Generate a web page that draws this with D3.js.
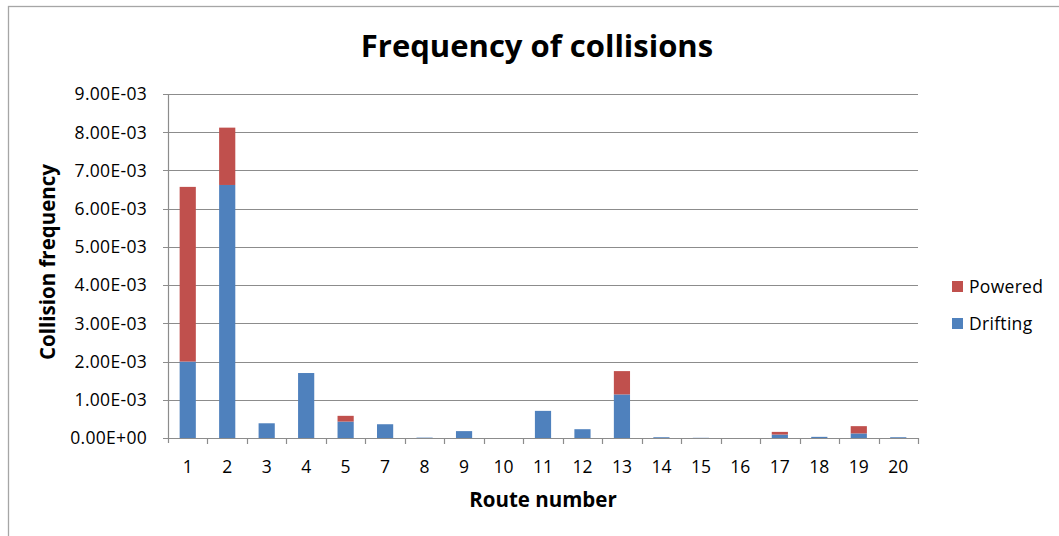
<!DOCTYPE html>
<html>
<head>
<meta charset="utf-8">
<script src="https://cdn.jsdelivr.net/npm/d3@7"></script>
<style>
  body { margin: 0; background: #fff; }
  text { font-family: "Open Sans", Lato, sans-serif; fill: #000; }
</style>
</head>
<body>
<svg width="1059" height="536"></svg>
<script>
// route numbers and collision frequencies
var routes = ["1", "2", "3", "4", "5", "7", "8", "9", "10", "11", "12", "13", "14", "15", "16", "17", "18", "19", "20"];
var drifting = [2.0e-3, 6.62e-3, 0.385e-3, 1.70e-3, 0.43e-3, 0.36e-3, 0.01e-3, 0.18e-3, 0, 0.71e-3, 0.23e-3, 1.14e-3, 0.02e-3, 0.005e-3, 0, 0.09e-3, 0.03e-3, 0.12e-3, 0.02e-3];
var powered = [4.57e-3, 1.5e-3, 0, 0, 0.15e-3, 0, 0, 0, 0, 0, 0, 0.61e-3, 0, 0, 0, 0.07e-3, 0, 0.19e-3, 0];
var yTicks = [0, 1e-3, 2e-3, 3e-3, 4e-3, 5e-3, 6e-3, 7e-3, 8e-3, 9e-3];

var svg = d3.select("svg");
var margin = {left: 168, right: 141, top: 94, bottom: 98};
var width = 1059 - margin.left - margin.right,
    height = 536 - margin.top - margin.bottom;

// outer chart border (cut off at right and bottom like the reference)
svg.append("rect")
   .attr("x", 8.5).attr("y", 6.5)
   .attr("width", 1100).attr("height", 600)
   .attr("fill", "none").attr("stroke", "#a6a6a6").attr("stroke-width", 1.3);

var g = svg.append("g").attr("transform", "translate(" + margin.left + "," + margin.top + ")");

var x = d3.scaleBand().domain(routes).range([0, width]).paddingInner(0.59).paddingOuter(0.295);
var xb = d3.scaleBand().domain(routes).range([0, width]);
var y = d3.scaleLinear().domain([0, 9e-3]).range([height, 0]);

// gridlines
g.selectAll(".grid")
 .data(yTicks)
 .enter().append("line")
 .attr("x1", -5).attr("x2", width)
 .attr("y1", function(d) { return Math.round(y(d)) + 0.5; })
 .attr("y2", function(d) { return Math.round(y(d)) + 0.5; })
 .attr("stroke", "#8c8c8c").attr("stroke-width", 1.2);

// y labels
g.selectAll(".ylab")
 .data(yTicks)
 .enter().append("text")
 .attr("x", -21).attr("y", function(d) { return y(d); })
 .attr("dy", "0.36em")
 .attr("text-anchor", "end")
 .style("font-size", "17.5px").style("letter-spacing", "0.3px")
 .text(function(d) { return d === 0 ? "0.00E+00" : d3.format(".2e")(d).replace(/e-(\d)$/, "E-0$1"); });

var stack = d3.stack().keys(["drifting", "powered"])(routes.map(function(r, i) {
  return {route: r, drifting: drifting[i], powered: powered[i]};
}));
var colors = {drifting: "#4f81bd", powered: "#c0504d"};

g.selectAll(".series")
 .data(stack)
 .enter().append("g")
 .attr("fill", function(d) { return colors[d.key]; })
 .selectAll("rect")
 .data(function(d) { return d; })
 .enter().append("rect")
 .attr("x", function(d) { return x(d.data.route); })
 .attr("width", x.bandwidth())
 .attr("y", function(d) { return y(d[1]); })
 .attr("height", function(d) { return y(d[0]) - y(d[1]); });

// axes lines
g.append("line").attr("x1", 0.5).attr("x2", 0.5).attr("y1", 0).attr("y2", height + 5)
 .attr("stroke", "#8c8c8c").attr("stroke-width", 1.2);
g.append("line").attr("x1", 0).attr("x2", width).attr("y1", height + 0.5).attr("y2", height + 0.5)
 .attr("stroke", "#8c8c8c").attr("stroke-width", 1.2);

// x ticks at band edges
g.selectAll(".xtick")
 .data(routes)
 .enter().append("line")
 .attr("x1", function(d) { return Math.round(xb(d) + xb.bandwidth()) + 0.5; })
 .attr("x2", function(d) { return Math.round(xb(d) + xb.bandwidth()) + 0.5; })
 .attr("y1", height).attr("y2", height + 6)
 .attr("stroke", "#8c8c8c").attr("stroke-width", 1.2);

g.selectAll(".xlab")
 .data(routes)
 .enter().append("text")
 .attr("x", function(d) { return xb(d) + xb.bandwidth() / 2; })
 .attr("y", height + 35)
 .attr("text-anchor", "middle")
 .style("font-size", "17.5px")
 .text(function(d) { return d; });

// titles
svg.append("text")
   .attr("x", 537).attr("y", 57)
   .attr("text-anchor", "middle")
   .style("font-size", "31px").style("font-weight", "bold")
   .text("Frequency of collisions");

svg.append("text")
   .attr("x", 543).attr("y", 507)
   .attr("text-anchor", "middle")
   .style("font-size", "20.5px").style("font-weight", "bold")
   .text("Route number");

svg.append("text")
   .attr("transform", "translate(55,262) rotate(-90)")
   .attr("text-anchor", "middle")
   .style("font-size", "20.5px").style("font-weight", "bold")
   .text("Collision frequency");

// legend
var legend = svg.selectAll(".legend")
  .data([["Powered", colors.powered], ["Drifting", colors.drifting]])
  .enter().append("g")
  .attr("transform", function(d, i) { return "translate(952," + (281 + i * 37) + ")"; });
legend.append("rect").attr("width", 11).attr("height", 11).attr("fill", function(d) { return d[1]; });
legend.append("text").attr("x", 17).attr("y", 6).attr("dy", "0.36em")
  .style("font-size", "17.5px").style("letter-spacing", "0.3px").text(function(d) { return d[0]; });
</script>
</body>
</html>
